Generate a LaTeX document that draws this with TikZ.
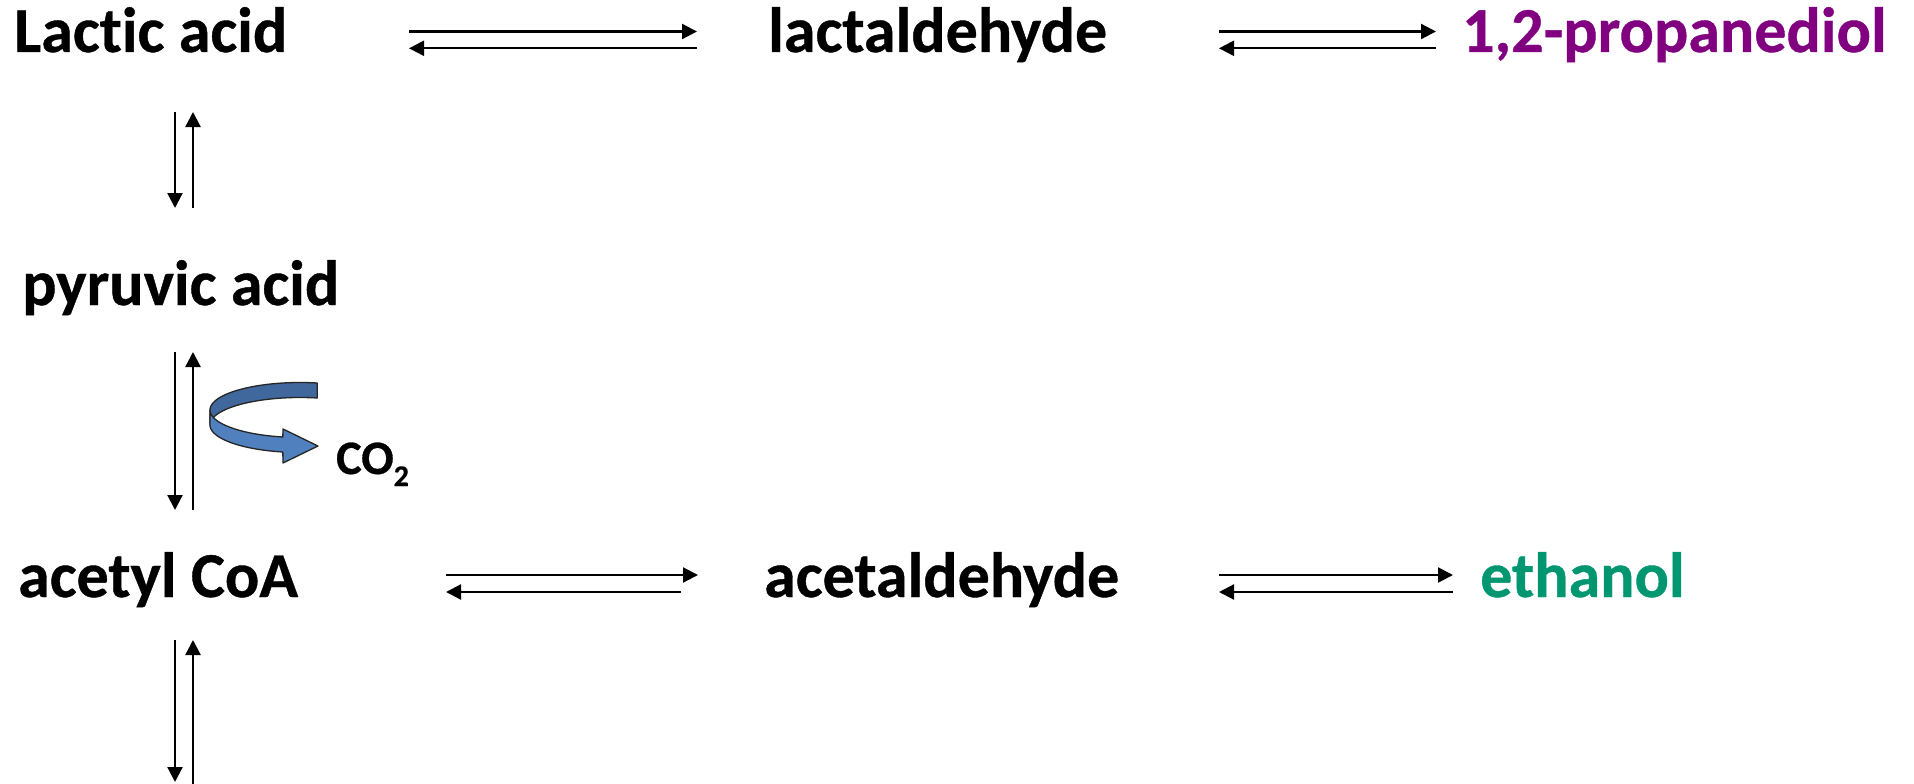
\documentclass[tikz,border=0pt]{standalone}
\usepackage{fontspec}
\setmainfont{Carlito}[Ligatures={NoCommon,NoRare,NoDiscretionary},BoldFeatures={FakeBold=0.6}]
\usetikzlibrary{arrows.meta}
\definecolor{purp}{RGB}{128,0,128}
\definecolor{eth}{RGB}{0,150,112}
\definecolor{bandback}{RGB}{64,104,156}
\definecolor{bandfront}{RGB}{80,129,190}
\begin{document}
\begin{tikzpicture}[x=1pt,y=-1pt,
  lbl/.style={anchor=base west,inner sep=0pt,font=\fontsize{64}{70}\selectfont\bfseries},
  rxn/.style={line width=2.2pt,-{Triangle[length=15pt,width=15pt]}},
  band/.style={draw=black!85,line width=1.3pt,line join=round}]
\useasboundingbox (0,0) rectangle (1914,784);
% compounds
\node[lbl] (lac) at (14,52) {Lactic acid};
\node[lbl] (lald) at (768,52) {lactaldehyde};
\node[lbl,text=purp] (pdo) at (1462,52) {1,2-propanediol};
\node[lbl] (pyr) at (22,305) {pyruvic acid};
\node[lbl] (acoa) at (18,597) {acetyl CoA};
\node[lbl] (ald) at (764,597) {acetaldehyde};
\node[lbl,text=eth] (etoh) at (1480,597) {ethanol};
\node[anchor=base west,inner sep=0pt,font=\fontsize{48}{52}\selectfont\bfseries] (co2) at (336,474) {CO\raisebox{-12pt}{\fontsize{30}{30}\selectfont 2}};
% arrow end points
\coordinate (r1a) at (409,31.5);  \coordinate (r1b) at (697,31.5);
\coordinate (r1c) at (697,48.3);  \coordinate (r1d) at (409,48.3);
\coordinate (r2a) at (1219,31.5); \coordinate (r2b) at (1436,31.5);
\coordinate (r2c) at (1436,48.3); \coordinate (r2d) at (1219,48.3);
\coordinate (r3a) at (446,575);   \coordinate (r3b) at (698,575);
\coordinate (r3c) at (681,592);   \coordinate (r3d) at (446,592);
\coordinate (r4a) at (1219,575);  \coordinate (r4b) at (1453,575);
\coordinate (r4c) at (1453,592);  \coordinate (r4d) at (1219,592);
\coordinate (v1a) at (175,112);   \coordinate (v1b) at (175,208);
\coordinate (v1c) at (193,208);   \coordinate (v1d) at (193,112);
\coordinate (v2a) at (175,352);   \coordinate (v2b) at (175,510);
\coordinate (v2c) at (193,510);   \coordinate (v2d) at (193,352);
\coordinate (v3a) at (175,640);   \coordinate (v3b) at (175,782);
\coordinate (v3c) at (193,784);   \coordinate (v3d) at (193,640);
\foreach \s/\e in {r1a/r1b,r1c/r1d,r2a/r2b,r2c/r2d,r3a/r3b,r3c/r3d,r4a/r4b,r4c/r4d,
                   v1a/v1b,v1c/v1d,v2a/v2b,v2c/v2d,v3a/v3b,v3c/v3d}
  \draw[rxn] (\s) -- (\e);
% CO2 ribbon arrow
\filldraw[band,fill=bandback]
  plot[domain=79:180,samples=40] ({300+90*cos(\x)},{410-27.5*sin(\x)})
  -- plot[domain=180:79,samples=40] ({300+90*cos(\x)},{425-27.5*sin(\x)}) -- cycle;
\filldraw[band,fill=bandfront]
  plot[domain=180:259,samples=40] ({300+90*cos(\x)},{410-27.5*sin(\x)})
  -- (283,429) -- (318,446) -- (283,463)
  -- plot[domain=259:180,samples=40] ({300+90*cos(\x)},{425-27.5*sin(\x)}) -- cycle;
\end{tikzpicture}
\end{document}
